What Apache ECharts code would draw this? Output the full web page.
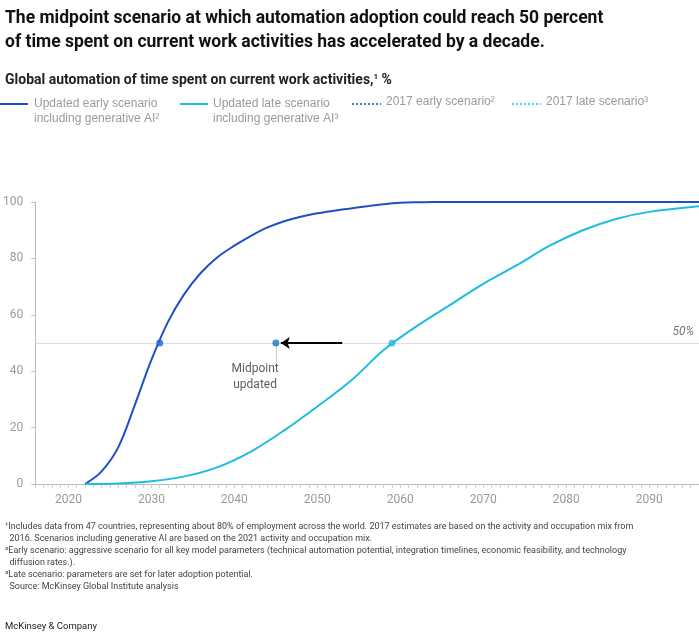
<!DOCTYPE html>
<html>
<head>
<meta charset="utf-8">
<script src="https://cdn.jsdelivr.net/npm/echarts@6/dist/echarts.min.js"></script>
<style>body{margin:0;background:#fff}#c{width:699px;height:634px}</style>
</head>
<body>
<div id="c"></div>
<script>
// data (year, % of time automated)
var earlyUpdated = [[2022,0],[2024,4.5],[2026,13],[2028,28],[2030,44],[2032,57.5],[2034,67.5],[2036,75],[2038,80.5],[2040,84.5],[2042,88],[2044,91],[2046,93.2],[2048,94.8],[2050,96],[2052,96.9],[2054,97.7],[2056,98.5],[2058,99.2],[2060,99.7],[2062,99.9],[2064,100],[2070,100],[2080,100],[2090,100],[2096,100]];
var lateUpdated = [[2022,0],[2026,0.2],[2030,1],[2034,2.7],[2038,6],[2042,11.5],[2046,19],[2050,27.5],[2054,36.5],[2058,47.5],[2062,56],[2066,63.5],[2070,71],[2074,77.5],[2078,84.5],[2082,90],[2086,94],[2090,96.5],[2096,98.5]];
var midEarly = [2031, 50], midLate = [2059, 50], midOld = [2045, 50];
var arrowFrom = 2053;
var yTicks = [0, 20, 40, 60, 80, 100];

var darkBlue = '#1f4fc7', cyan = '#1cbde0', grey = '#9a9a9a';
var chart = echarts.init(document.getElementById('c'));
chart.setOption({
  animation: false,
  textStyle: {fontFamily: 'Roboto, Arial'},
  grid: {left: 34, right: 0, top: 202, bottom: 150},
  xAxis: {
    type: 'value', min: 2016, max: 2096, interval: 1,
    axisLine: {lineStyle: {color: '#bbb'}},
    axisTick: {length: 4, lineStyle: {color: '#ccc'}},
    splitLine: {show: false},
    axisLabel: {color: grey, fontSize: 12, margin: 10, showMaxLabel: false,
      formatter: function (v) { return v % 10 === 0 ? String(v) : ''; }}
  },
  yAxis: {
    type: 'value', min: yTicks[0], max: yTicks[yTicks.length - 1], interval: 20,
    axisLine: {show: true, lineStyle: {color: '#bbb'}},
    axisTick: {show: true, length: 4, lineStyle: {color: '#bbb'}},
    splitLine: {show: false},
    axisLabel: {color: grey, fontSize: 12, margin: 12}
  },
  title: [
    {text: 'The midpoint scenario at which automation adoption could reach 50 percent\nof time spent on current work activities has accelerated by a decade.',
     left: 0, top: 2, textStyle: {fontSize: 17.5, fontWeight: 'bold', color: '#111', lineHeight: 24}},
    {text: 'Global automation of time spent on current work activities,{s|1} %', left: 0, top: 68,
     textStyle: {fontSize: 14, fontWeight: 'bold', color: '#222', rich: {s: {fontSize: 8, verticalAlign: 'top', fontWeight: 'bold', color: '#222'}}}},
    {text: '¹Includes data from 47 countries, representing about 80% of employment across the world. 2017 estimates are based on the activity and occupation mix from\n  2016. Scenarios including generative AI are based on the 2021 activity and occupation mix.\n²Early scenario: aggressive scenario for all key model parameters (technical automation potential, integration timelines, economic feasibility, and technology\n  diffusion rates.).\n³Late scenario: parameters are set for later adoption potential.\n  Source: McKinsey Global Institute analysis',
     left: 0, top: 516, textStyle: {fontSize: 9, fontWeight: 'normal', color: '#444', lineHeight: 12}},
    {text: 'McKinsey & Company', left: 0, top: 617, textStyle: {fontSize: 9.5, fontWeight: 'normal', color: '#222'}}
  ],
  graphic: [
    {type: 'line', shape: {x1: 0, y1: 104, x2: 28, y2: 104}, style: {stroke: darkBlue, lineWidth: 2}},
    {type: 'text', left: 34, top: 96, style: {text: 'Updated early scenario\nincluding generative AI²', fill: grey, fontSize: 12, lineHeight: 15}},
    {type: 'line', shape: {x1: 180, y1: 104, x2: 208, y2: 104}, style: {stroke: cyan, lineWidth: 2}},
    {type: 'text', left: 213, top: 96, style: {text: 'Updated late scenario\nincluding generative AI³', fill: grey, fontSize: 12, lineHeight: 15}},
    {type: 'line', shape: {x1: 352, y1: 104, x2: 381, y2: 104}, style: {stroke: darkBlue, lineWidth: 1.5, lineDash: [2, 2]}},
    {type: 'text', left: 386, top: 96, style: {text: '2017 early scenario²', fill: grey, fontSize: 12}},
    {type: 'line', shape: {x1: 512, y1: 104, x2: 541, y2: 104}, style: {stroke: cyan, lineWidth: 1.5, lineDash: [2, 2]}},
    {type: 'text', left: 546, top: 96, style: {text: '2017 late scenario³', fill: grey, fontSize: 12}}
  ],
  series: [
    {type: 'line', data: earlyUpdated, smooth: 0.35, showSymbol: false, z: 3,
     lineStyle: {color: darkBlue, width: 2},
     markLine: {silent: true, symbol: 'none', lineStyle: {color: '#ddd', width: 1, type: 'solid'},
       label: {position: 'insideEndTop', formatter: '50%', color: '#777', fontStyle: 'italic', fontSize: 12},
       data: [{yAxis: 50}]}},
    {type: 'line', data: lateUpdated, smooth: 0.35, showSymbol: false, z: 3,
     lineStyle: {color: cyan, width: 2}},
    {type: 'scatter', symbolSize: 7, z: 5, data: [
      {value: midEarly, itemStyle: {color: '#1d5fe0'}},
      {value: midLate, itemStyle: {color: '#27b6e3'}},
      {value: midOld, itemStyle: {color: '#1778c0'}}],
     markLine: {silent: true, symbol: ['none', 'arrow'], symbolSize: 9,
       lineStyle: {color: '#000', width: 2, type: 'solid'}, label: {show: false},
       data: [
         [{coord: [arrowFrom, 50]}, {coord: [midOld[0] + 0.6, 50]}],
         [{coord: [midOld[0], 50], lineStyle: {color: '#ccc', width: 1}, symbol: 'none'},
          {coord: [midOld[0], 43], symbol: 'none'}]
       ]}},
    {type: 'scatter', data: [[midOld[0] - 2.5, 38]], symbolSize: 0, silent: true,
     label: {show: true, formatter: 'Midpoint\nupdated', position: 'inside', color: '#333', fontSize: 12, lineHeight: 16}}
  ]
});
</script>
</body>
</html>
